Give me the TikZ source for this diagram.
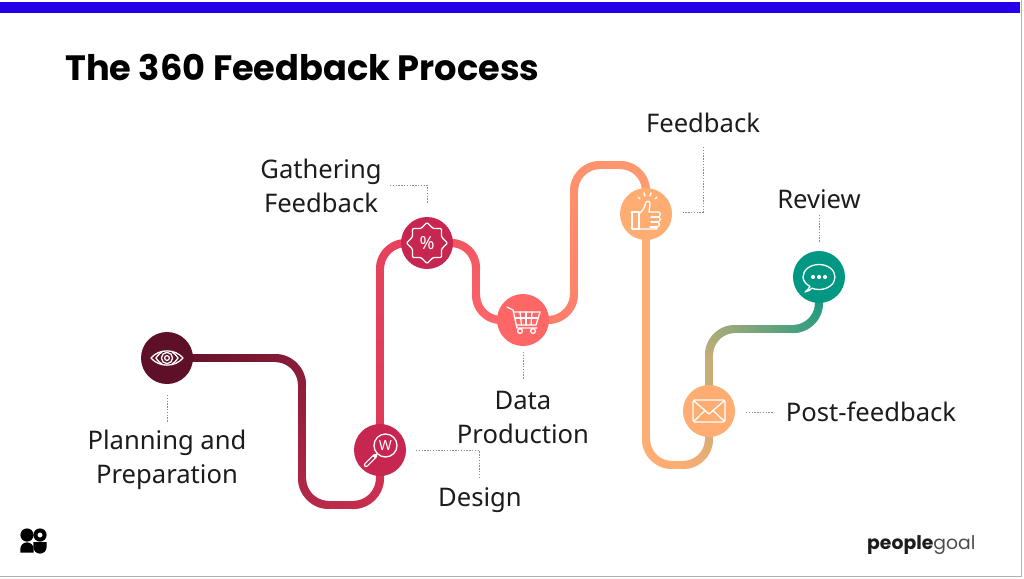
\documentclass[tikz,border=0pt]{standalone}
\usepackage{fontspec}
\setmainfont{Noto Sans}
\newfontfamily\titlefont{Poppins}
\usetikzlibrary{decorations.markings,shapes.geometric}
\definecolor{cEye}{HTML}{5E1028}
\definecolor{cDeep}{HTML}{C72650}
\definecolor{cCart}{HTML}{FF6767}
\definecolor{cThumb}{HTML}{FFAD72}
\definecolor{cTeal}{HTML}{009882}
\definecolor{cTan}{HTML}{C8AD78}
\definecolor{cBar}{HTML}{2400E8}
\definecolor{cInk}{HTML}{1C1C1C}
\definecolor{gA}{HTML}{D93355}
\definecolor{gB}{HTML}{DE3A58}
\definecolor{gC}{HTML}{E8435F}
\definecolor{gD}{HTML}{F0505F}
\definecolor{gE}{HTML}{FF6B6B}
\definecolor{gF}{HTML}{FF7A6C}
\definecolor{gG}{HTML}{FF9E70}
\tikzset{
  flow/.style 2 args={decorate,decoration={markings,
    mark=between positions 0 and 1 step 1pt with {
      \pgfmathsetmacro\pc{min(100,\pgfkeysvalueof{/pgf/decoration/mark info/distance from start}/\pgfdecoratedpathlength*100)}
      \fill[#2!\pc!#1,sharp corners] (-0.8pt,-4pt) rectangle (0.8pt,4pt);}}},
  stopnode/.style={circle,minimum size=52pt,inner sep=0pt,fill=#1},
  lead/.style={draw=black!45,line width=0.8pt,dash pattern=on 1.4pt off 1.4pt},
  lab/.style={text=cInk,align=center,inner sep=0pt,font=\fontsize{25.6}{34}\selectfont},
  icon/.style={draw=white,line width=1.3pt,line join=round,line cap=round},
}
\begin{document}
\begin{tikzpicture}[x=1pt,y=-1pt]
\useasboundingbox (0,0) rectangle (1024,578);
\fill[white] (0,0) rectangle (1024,578);
% frame and bar
\fill[black!30] (0,575.8) rectangle (1022,577);
\fill[black!30] (1020.8,0) rectangle (1022,577);
\fill[cBar] (0,2) rectangle (1020,13);
\node[anchor=base west,inner sep=0pt,font=\titlefont\bfseries\fontsize{35.2}{40}\selectfont,text=black] (title) at (65,80) {The 360 Feedback Process};
% way points
\coordinate (a1) at (302,358); \coordinate (a2) at (302,505); \coordinate (a3) at (380,505);
\coordinate (b1) at (380,243);
\coordinate (c1) at (476,243); \coordinate (c2) at (476,320);
\coordinate (d1) at (574,320); \coordinate (d2) at (574,165); \coordinate (d3) at (646,165);
\coordinate (e1) at (646,465); \coordinate (e2) at (675,465); \coordinate (e3) at (709,465);
\coordinate (f0) at (709,360); \coordinate (f1) at (709,329); \coordinate (f2) at (819,329);
% stops
\coordinate (pEye) at (167,358); \coordinate (pW) at (380,450); \coordinate (pPct) at (427,243);
\coordinate (pCart) at (523,320); \coordinate (pThumb) at (646,214); \coordinate (pEnv) at (709,411); \coordinate (pChat) at (819,277);
% connectors
\path[flow={cEye}{gA},rounded corners=27pt] (pEye) -- (a1) -- (a2) -- (a3) -- (pW);
\path[flow={gB}{gC},rounded corners=26pt] (pW) -- (b1) -- (pPct);
\path[flow={gD}{gE},rounded corners=25pt] (pPct) -- (c1) -- (c2) -- (pCart);
\path[flow={gF}{gG},rounded corners=26pt] (pCart) -- (d1) -- (d2) -- (d3) -- (pThumb);
\path[flow={cThumb}{cThumb},rounded corners=26pt] (pThumb) -- (e1) -- (e2);
\path[flow={cThumb}{cTan},rounded corners=26pt] (e2) -- (e3) -- (pEnv);
\path[flow={cTan}{cTan}] (pEnv) -- (f0);
\path[flow={cTan}{cTeal},rounded corners=26pt] (f0) -- (f1) -- (f2) -- (pChat);
% stop circles
\node[stopnode=cEye] (eye) at (pEye) {};
\node[stopnode=cDeep] (w) at (pW) {};
\node[stopnode=cDeep] (pct) at (pPct) {};
\node[stopnode=cCart] (cart) at (pCart) {};
\node[stopnode=cThumb] (thumb) at (pThumb) {};
\node[stopnode=cThumb] (env) at (pEnv) {};
\node[stopnode=cTeal] (chat) at (pChat) {};
% labels
\node[lab] (lPlan) at (167,459.5) {Planning and\\Preparation};
\node[lab] (lGather) at (321,186) {Gathering\\Feedback};
\node[lab] (lDesign) at (480,500) {Design};
\node[lab] (lData) at (523,417.5) {Data\\Production};
\node[lab] (lFeed) at (703,123) {Feedback};
\node[lab] (lReview) at (819,199) {Review};
\node[lab] (lPost) at (871,412) {Post-feedback};
% leader lines
\draw[lead] (167,395) -- (167,422);
\draw[lead] (390,185) -- (427,185) -- (427,204);
\draw[lead] (416,450) -- (479,450) -- (479,478);
\draw[lead] (523,352) -- (523,380);
\draw[lead] (703,147) -- (703,212) -- (682,212);
\draw[lead] (819,215) -- (819,242);
\draw[lead] (746,412) -- (773,412);
% eye icon
\begin{scope}[shift={(eye.center)},icon]
\draw (-16,0) .. controls (-8,-9.5) and (8,-9.5) .. (16,0) .. controls (8,9.5) and (-8,9.5) .. (-16,0) -- cycle;
\draw (0,0) circle (5.6);
\draw (0,0) circle (2.4);
\draw (-11,0) .. controls (-9,-3) and (-7,-5) .. (-5,-6);
\draw (-11,0) .. controls (-9,3) and (-7,5) .. (-5,6);
\draw (11,0) .. controls (9,-3) and (7,-5) .. (5,-6);
\draw (11,0) .. controls (9,3) and (7,5) .. (5,6);
\end{scope}
% magnifier icon
\begin{scope}[shift={(w.center)},icon]
\draw (5.5,-4.5) circle (11.5);
\draw[line width=4.4pt] (-5,6) -- (-14,15);
\draw[cDeep,line width=1.8pt] (-6.5,7.5) -- (-14,15);
\draw (-2.5,3.5) -- (-5,6);
\node[text=white,inner sep=0pt,font=\bfseries\fontsize{14}{14}\selectfont] (wtxt) at (5.5,-4.5) {W};
\end{scope}
% badge icon
\node[star,star points=8,star point ratio=1.3,minimum size=41pt,inner sep=0pt,draw=white,line width=1.3pt,rounded corners=1pt,text=white,font=\fontsize{18}{18}\selectfont] (badge) at (pct.center) {\%};
% cart icon
\begin{scope}[shift={(cart.center)},icon]
\draw (-16,-13) -- (-10,-10) -- (-6,8) -- (14,8);
\draw (-9,-8) -- (17,-8) -- (13,5) -- (-6.5,5);
\draw (-7.5,-2) -- (15.2,-2);
\draw (-3,-8) -- (-1.5,5);
\draw (3,-8) -- (3,5);
\draw (9,-8) -- (8,5);
\draw (-3,11) circle (2.4);
\draw (10,11) circle (2.4);
\end{scope}
% thumb icon
\begin{scope}[shift={(thumb.center)},icon]
\draw (-14,-2) rectangle (-7,15);
\draw (-7,0) .. controls (-3,-3) and (-1,-8) .. (0,-12) .. controls (1,-14) and (4,-13) .. (4,-10) -- (3,-2) -- (12,-2) .. controls (15,-2) and (15,2) .. (13,3) .. controls (15,4) and (15,7) .. (12.5,8) .. controls (14,9) and (14,12) .. (11,13) .. controls (12,15) and (10,15.5) .. (9,15) -- (-7,15);
\draw (5,3) -- (13,3);
\draw (5,8) -- (12.5,8);
\draw (4,13) -- (11,13);
\draw (-8,-17) -- (-6,-15);
\draw (-2,-21) -- (-1,-18);
\draw (5,-21) -- (4,-18);
\draw (11,-17) -- (9,-15);
\end{scope}
% envelope icon
\begin{scope}[shift={(env.center)},icon]
\draw[rounded corners=1.5pt] (-16,-11) rectangle (16,11);
\draw (-15,-10) -- (0,3) -- (15,-10);
\draw (-15,10) -- (-4.5,0);
\draw (15,10) -- (4.5,0);
\end{scope}
% speech icon
\begin{scope}[shift={(chat.center)},icon]
\draw (-9,9.5) .. controls (-15,6) and (-16,2) .. (-16,0) .. controls (-16,-7) and (-9,-12.5) .. (0,-12.5) .. controls (9,-12.5) and (16,-7) .. (16,0) .. controls (16,7) and (9,12.5) .. (0,12.5) .. controls (-3,12.5) and (-5,12) .. (-7,11.2) .. controls (-9,13) and (-11,14.5) .. (-14,15) .. controls (-12,13) and (-10,12) .. (-9,9.5) -- cycle;
\fill[white,draw=none] (-6,0) circle (2.1) (0,0) circle (2.1) (6,0) circle (2.1);
\end{scope}
% logo
\fill[black] (27,535) circle (6.6);
\fill[black,even odd rule] (40,535) circle (6.6) (40,535) circle (2.6);
\fill[black] (20.3,552.5) -- (20.3,549) arc[start angle=180,end angle=360,x radius=6.7,y radius=6.7] -- (33.7,552.5) -- cycle;
\fill[black] (33.4,542) -- (46.6,542) -- (46.6,547) arc[start angle=0,end angle=180,radius=6.6] -- cycle;
\node[anchor=base west,inner sep=0pt,font=\titlefont\fontsize{18.8}{24}\selectfont] (brand) at (867,549) {{\bfseries\color{cInk}people}{\color{black!70}goal}};
\end{tikzpicture}
\end{document}
